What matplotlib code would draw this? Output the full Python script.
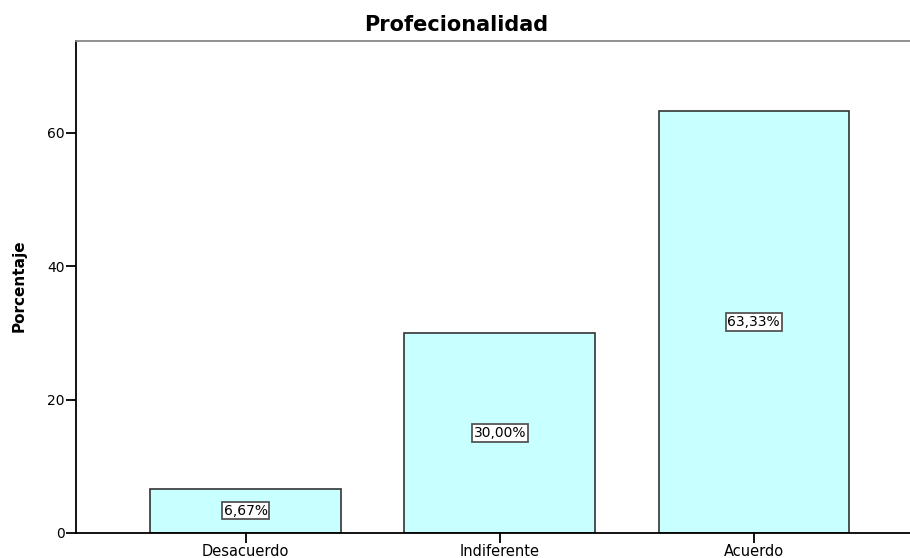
import matplotlib.pyplot as plt

categories = ["Desacuerdo", "Indiferente", "Acuerdo"]
percentages = [6.67, 30.00, 63.33]
labels = ["6,67%", "30,00%", "63,33%"]
yticks = [0, 20, 40, 60]

plt.rcParams["font.family"] = "DejaVu Sans"

fig = plt.figure(figsize=(9.1, 5.58), dpi=100)
ax = fig.add_axes([76 / 910, 1 - 533 / 558, 1 - 76 / 910, (533 - 41) / 558])

x = range(len(categories))
ax.bar(x, percentages, width=0.75, color="#c8ffff", edgecolor="#333333",
       linewidth=1.2)

# percentage labels in the middle of each bar
for i, (v, lab) in enumerate(zip(percentages, labels)):
    ax.text(i, v / 2, lab, ha="center", va="center", fontsize=10,
            bbox=dict(boxstyle="square,pad=0.12", facecolor="white",
                      edgecolor="#555555", linewidth=1.3))

ax.set_xlim(-0.668, 2.615)
ax.set_ylim(0, 73.8)
ax.set_xticks(list(x))
ax.set_xticklabels(categories, fontsize=10.5)
ax.set_yticks(yticks)
ax.set_yticklabels([str(t) for t in yticks], fontsize=10)
ax.tick_params(direction="out", length=7, width=1.3, pad=1)

ax.spines["right"].set_visible(False)
ax.spines["top"].set_color("#888888")
ax.spines["top"].set_linewidth(1.3)
ax.spines["left"].set_linewidth(1.3)
ax.spines["bottom"].set_linewidth(1.3)

fig.text(456 / 910, 1 - 25 / 558, "Profecionalidad", ha="center",
         va="center", fontsize=15, fontweight="bold")
fig.text(19 / 910, 1 - 286 / 558, "Porcentaje", ha="center", va="center",
         rotation=90, fontsize=11, fontweight="bold")

fig.savefig("out.png", dpi=100)
